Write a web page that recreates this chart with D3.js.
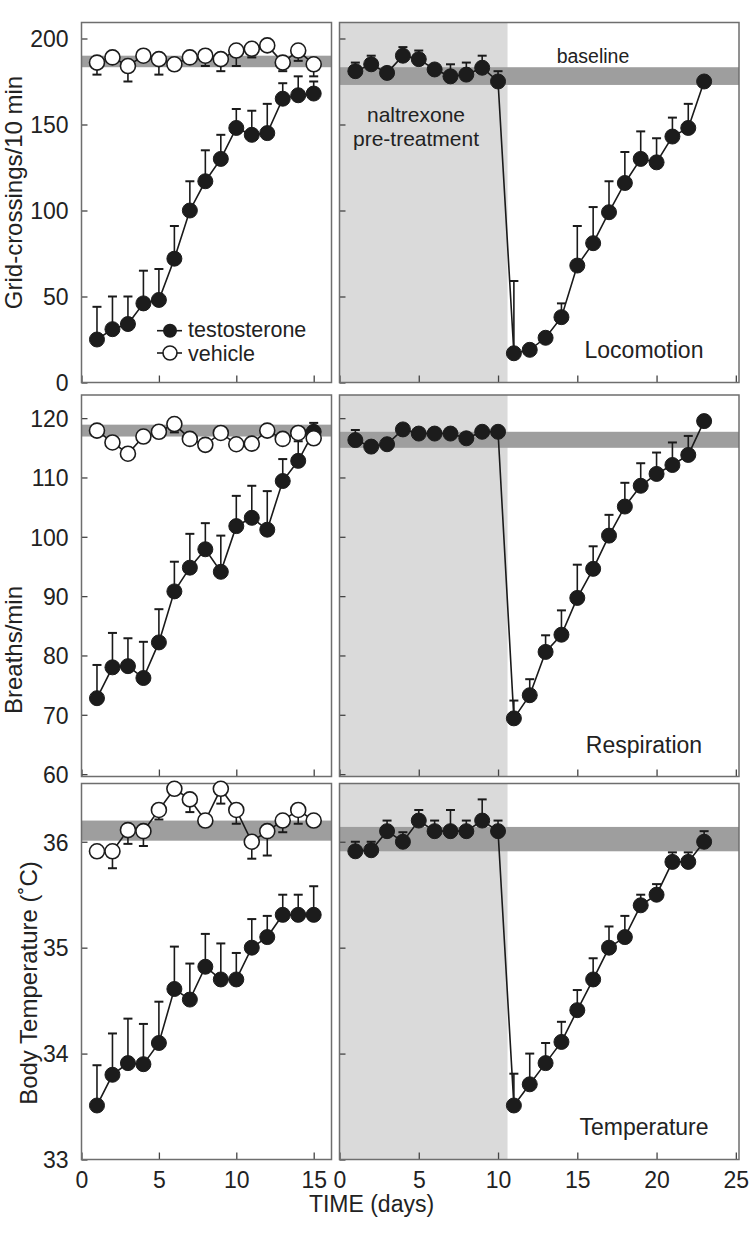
<!DOCTYPE html>
<html><head><meta charset="utf-8">
<script src="https://cdn.jsdelivr.net/npm/d3@7"></script>
<style>body{margin:0;background:#fff}svg{display:block}text{font-family:"Liberation Sans",Arial,Helvetica,sans-serif;fill:#222}</style>
</head><body><svg id="c" width="750" height="1237"></svg>
<script>
// ---------- data ----------
const daysL = [1,2,3,4,5,6,7,8,9,10,11,12,13,14,15];
const daysR = [1,2,3,4,5,6,7,8,9,10,11,12,13,14,15,16,17,18,19,20,21,22,23];

const locoT    = [25,31,34,46,48,72,100,117,130,148,144,145,165,167,168];
const locoTSem = [19,19,16,19,18,19,17,18,14,11,14,17,9,11,7];
const locoV    = [186,189,184,190,188,185,189,190,188,193,194,196,186,193,185];
const locoVSem = [7,2,9,2,9,2,2,6,7,9,5,2,5,6,7];
const locoN    = [181,185,180,190,188,182,178,179,183,175,17,19,26,38,68,81,99,116,130,128,143,148,175];
const locoNSem = [5,5,2,5,5,2,7,7,7,6,42,2,3,8,23,21,18,18,16,14,11,14,2];

const respT    = [72.8,78,78.2,76.2,82.2,90.8,94.8,97.9,94.1,101.8,103.2,101.2,109.4,112.8,117.7];
const respTSem = [5.6,5.8,4.7,6.1,5.6,5,5.7,4.4,6.1,5.1,5.4,6.5,3.7,3.3,1.5];
const respV    = [117.9,115.9,114,116.9,117.7,119,116.5,115.5,117.5,115.6,115.7,117.9,116.5,117.5,116.6];
const respVSem = [0.5,0.5,0.5,0.5,0.5,1.4,0.5,0.5,0.5,0.5,0.5,0.5,0.5,0.5,0.5];
const respN    = [116.3,115.2,115.6,118.1,117.4,117.4,117.4,116.6,117.7,117.7,69.4,73.3,80.6,83.5,89.7,94.6,100.2,105.1,108.6,110.6,112.1,113.8,119.5];
const respNSem = [1.7,0.5,0.5,0.5,0.5,0.5,0.5,0.5,0.5,0.5,3,2.7,2.8,4.1,5.6,3.8,3.5,4,3.8,3.6,3.8,3.2,0.5];

const tempT    = [33.51,33.8,33.91,33.9,34.1,34.61,34.51,34.82,34.7,34.7,35.0,35.1,35.31,35.31,35.31];
const tempTSem = [0.38,0.39,0.42,0.38,0.39,0.4,0.34,0.31,0.34,0.25,0.27,0.2,0.19,0.19,0.27];
const tempV    = [35.91,35.91,36.11,36.1,36.3,36.5,36.4,36.2,36.5,36.3,36.0,36.1,36.2,36.3,36.2];
const tempVSem = [0.02,0.16,0.13,0.14,0.09,0.02,0.12,0.02,0.14,0.13,0.16,0.23,0.11,0.13,0.02];
const tempN    = [35.91,35.92,36.1,36.0,36.2,36.1,36.1,36.1,36.2,36.1,33.51,33.71,33.91,34.11,34.41,34.7,35.0,35.1,35.4,35.5,35.81,35.81,36.0];
const tempNSem = [0.09,0.08,0.1,0.09,0.1,0.1,0.2,0.1,0.2,0.1,0.3,0.29,0.19,0.19,0.19,0.2,0.2,0.2,0.1,0.1,0.09,0.09,0.1];

const bandLocoL = [183.3,190], bandLocoR = [173,183.3];
const bandRespL = [116.9,118.9], bandRespR = [115,117.7];
const bandTempL = [36.01,36.2], bandTempR = [35.91,36.14];

const yTicksLoco = [0,50,100,150,200];
const yTicksResp = [60,70,80,90,100,110,120];
const yTicksTemp = [33,34,35,36];
const xTicksL = [0,5,10,15];
const xTicksR = [0,5,10,15,20,25];
const shadeEnd = 10.6;

const yTitles = ["Grid-crossings/10 min","Breaths/min","Body Temperature (˚C)"];
const panelLabels = ["Locomotion","Respiration","Temperature"];
const legendLabels = ["testosterone","vehicle"];
const xTitle = "TIME (days)";

// ---------- layout ----------
const svg = d3.select("#c");
const xL = d3.scaleLinear().domain([0,16.15]).range([81.5,331.5]);
const xR = d3.scaleLinear().domain([0,25.2]).range([339.5,739]);
const rows = [
  {y: d3.scaleLinear().domain([0,209.3]).range([382.5,22.5]), ticks: yTicksLoco,
   L:[{m:locoT,s:locoTSem,dir:1,fill:true},{m:locoV,s:locoVSem,dir:-1,fill:false}], bandL:bandLocoL,
   R:[{m:locoN,s:locoNSem,dir:1,fill:true}], bandR:bandLocoR},
  {y: d3.scaleLinear().domain([59.6,123.9]).range([776.5,395]), ticks: yTicksResp,
   L:[{m:respT,s:respTSem,dir:1,fill:true},{m:respV,s:respVSem,dir:-1,fill:false}], bandL:bandRespL,
   R:[{m:respN,s:respNSem,dir:1,fill:true}], bandR:bandRespR},
  {y: d3.scaleLinear().domain([33,36.55]).range([1159.5,783.5]), ticks: yTicksTemp,
   L:[{m:tempT,s:tempTSem,dir:1,fill:true},{m:tempV,s:tempVSem,dir:-1,fill:false}], bandL:bandTempL,
   R:[{m:tempN,s:tempNSem,dir:1,fill:true}], bandR:bandTempR}
];

function drawPanel(x, y, days, series, band, yTicks, xTicks, showYLabels, showXLabels, shaded){
  const g = svg.append("g");
  const [x0,x1] = x.range(), [y0,y1] = y.range();
  if (shaded) g.append("rect").attr("x",x0).attr("y",y1).attr("width",x(shadeEnd)-x0).attr("height",y0-y1).attr("fill","#dadada");
  g.append("rect").attr("x",x0).attr("width",x1-x0).attr("y",y(band[1])).attr("height",y(band[0])-y(band[1])).attr("fill","#9e9e9e");
  const ya = g.append("g").attr("transform",`translate(${x0},0)`)
    .call(d3.axisLeft(y).tickValues(yTicks).tickSize(-6).tickPadding(13)
      .tickFormat(showYLabels ? d3.format("d") : () => ""));
  ya.select(".domain").remove();
  ya.selectAll("line").attr("stroke","#444").attr("stroke-width",1.3);
  ya.selectAll("text").attr("font-size",23).attr("fill","#222").attr("dy","0.36em");
  const xa = g.append("g").attr("transform",`translate(0,${y0})`)
    .call(d3.axisBottom(x).tickValues(xTicks).tickSize(-7).tickPadding(12)
      .tickFormat(showXLabels ? d3.format("d") : () => ""));
  xa.select(".domain").remove();
  xa.selectAll("line").attr("stroke","#444").attr("stroke-width",1.3);
  xa.selectAll("text").attr("font-size",23).attr("fill","#222");
  g.append("rect").attr("x",x0).attr("y",y1).attr("width",x1-x0).attr("height",y0-y1)
    .attr("fill","none").attr("stroke","#6e6e6e").attr("stroke-width",1.5);
  const line = d3.line().x((d,i)=>x(days[i])).y(d=>y(d));
  series.forEach(s=>{
    const eb = g.append("g");
    s.m.forEach((v,i)=>{
      const ye = y(v + s.dir*s.s[i]), xc = x(days[i]);
      eb.append("line").attr("x1",xc).attr("x2",xc).attr("y1",y(v)).attr("y2",ye).attr("stroke","#1a1a1a").attr("stroke-width",1.6);
      eb.append("line").attr("x1",xc-4.5).attr("x2",xc+4.5).attr("y1",ye).attr("y2",ye).attr("stroke","#1a1a1a").attr("stroke-width",2);
    });
  });
  series.forEach(s=>{
    g.append("path").datum(s.m).attr("d",line).attr("fill","none").attr("stroke","#1a1a1a").attr("stroke-width",1.6);
    g.selectAll(null).data(s.m).enter().append("circle")
      .attr("cx",(d,i)=>x(days[i])).attr("cy",d=>y(d)).attr("r",7.5)
      .attr("fill",s.fill?"#1c1c1c":"#fff").attr("stroke","#1c1c1c").attr("stroke-width",s.fill?1:1.6);
  });
}

rows.forEach((r,ri)=>{
  const last = ri===rows.length-1;
  drawPanel(xL, r.y, daysL, r.L, r.bandL, r.ticks, xTicksL, true, last, false);
  drawPanel(xR, r.y, daysR, r.R, r.bandR, r.ticks, xTicksR, false, last, true);
});

// panel labels
const lblY = [358.3, 753.3, 1135];
panelLabels.forEach((t,i)=>svg.append("text").attr("x",644).attr("y",lblY[i]).attr("text-anchor","middle").attr("font-size",23).text(t));

// annotations
svg.append("text").attr("x",416).attr("y",122).attr("text-anchor","middle").attr("font-size",21).text("naltrexone");
svg.append("text").attr("x",416).attr("y",146).attr("text-anchor","middle").attr("font-size",21).text("pre-treatment");
svg.append("text").attr("x",593).attr("y",62.7).attr("text-anchor","middle").attr("font-size",19.5).text("baseline");

// y titles
const yTitlePos = [[21.5,192.5],[21.5,650],[37,983]];
yTitles.forEach((t,i)=>svg.append("text").attr("transform",`translate(${yTitlePos[i][0]},${yTitlePos[i][1]}) rotate(-90)`)
  .attr("text-anchor","middle").attr("font-size",24).text(t));
svg.append("text").attr("x",371.5).attr("y",1211.7).attr("text-anchor","middle").attr("font-size",23).text(xTitle);

// legend
const lg = svg.append("g");
lg.append("line").attr("x1",157).attr("x2",182).attr("y1",330.7).attr("y2",330.7).attr("stroke","#1a1a1a").attr("stroke-width",1.6);
lg.append("circle").attr("cx",170).attr("cy",330.7).attr("r",7).attr("fill","#1c1c1c");
lg.append("line").attr("x1",157).attr("x2",182).attr("y1",353).attr("y2",353).attr("stroke","#1a1a1a").attr("stroke-width",1.6);
lg.append("circle").attr("cx",170).attr("cy",353).attr("r",7).attr("fill","#fff").attr("stroke","#1c1c1c").attr("stroke-width",1.6);
lg.append("text").attr("x",188).attr("y",337).attr("font-size",21.5).text(legendLabels[0]);
lg.append("text").attr("x",188).attr("y",361).attr("font-size",21.5).text(legendLabels[1]);
</script></body></html>
